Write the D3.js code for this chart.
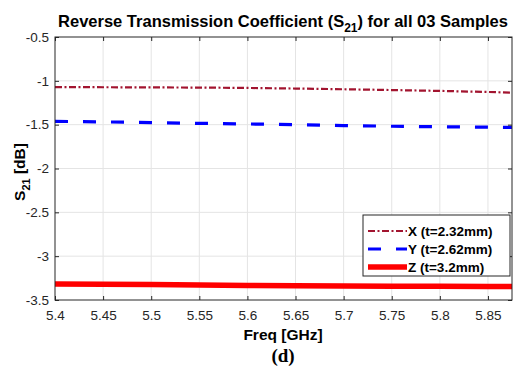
<!DOCTYPE html>
<html>
<head>
<meta charset="utf-8">
<script src="https://cdn.jsdelivr.net/npm/d3@7"></script>
<style>
  body { margin: 0; background: #fff; }
  svg { font-family: "Liberation Sans", Arial, sans-serif; }
</style>
</head>
<body>
<svg id="chart" width="515" height="374"></svg>
<script>
// frequency points (GHz)
const freq = [5.4, 5.45, 5.5, 5.55, 5.6, 5.65, 5.7, 5.75, 5.8, 5.85, 5.875]
// S21 [dB] for each sample
const sX = [-1.072, -1.073, -1.075, -1.077, -1.081, -1.088, -1.096, -1.105, -1.115, -1.127, -1.135]
const sY = [-1.462, -1.468, -1.476, -1.485, -1.492, -1.500, -1.510, -1.518, -1.524, -1.529, -1.532]
const sZ = [-3.318, -3.320, -3.324, -3.330, -3.334, -3.337, -3.341, -3.343, -3.344, -3.345, -3.345]
const xTicks = [5.4, 5.45, 5.5, 5.55, 5.6, 5.65, 5.7, 5.75, 5.8, 5.85]
const yTicks = [-0.5, -1, -1.5, -2, -2.5, -3, -3.5]
const labels = ['X (t=2.32mm)', 'Y (t=2.62mm)', 'Z (t=3.2mm)']

const series = [
	{ name: labels[0], values: sX, color: '#a2142f', width: 2.2, dash: '7,2.5,2,2.5' },
	{ name: labels[1], values: sY, color: '#0000ff', width: 3.2, dash: '13,15' },
	{ name: labels[2], values: sZ, color: '#ff0000', width: 5.5, dash: null }
]

const m = { left: 55, top: 37, right: 512, bottom: 300 }
const svg = d3.select('#chart')

const x = d3.scaleLinear().domain([5.4, 5.875]).range([m.left, m.right])
const y = d3.scaleLinear().domain([-3.5, -0.5]).range([m.bottom, m.top])

const axisColor = '#262626'
const fmt = (d) => String(d)

// grid
const grid = svg.append('g')
grid.selectAll('.gx').data(xTicks.slice(1))
	.enter().append('line')
		.attr('x1', (d) => x(d)).attr('x2', (d) => x(d))
		.attr('y1', m.top).attr('y2', m.bottom)
		.attr('stroke', '#e4e4e4').attr('stroke-width', 1)
grid.selectAll('.gy').data(yTicks.slice(1, -1))
	.enter().append('line')
		.attr('x1', m.left).attr('x2', m.right)
		.attr('y1', (d) => y(d)).attr('y2', (d) => y(d))
		.attr('stroke', '#e4e4e4').attr('stroke-width', 1)

// lines
const line = d3.line()
	.x((d, i) => x(freq[i]))
	.y((d) => y(d))

svg.append('g').selectAll('path').data(series)
	.enter().append('path')
		.attr('d', (s) => line(s.values))
		.attr('fill', 'none')
		.attr('stroke', (s) => s.color)
		.attr('stroke-width', (s) => s.width)
		.attr('stroke-dasharray', (s) => s.dash)

// axes with inward ticks
const xAxis = d3.axisBottom(x).tickValues(xTicks).tickFormat(fmt).tickSizeInner(-4).tickSizeOuter(0).tickPadding(10)
const yAxis = d3.axisLeft(y).tickValues(yTicks).tickFormat(fmt).tickSizeInner(-4).tickSizeOuter(0).tickPadding(6)
const xTop = d3.axisTop(x).tickValues(xTicks).tickFormat('').tickSizeInner(-4).tickSizeOuter(0)
const yRight = d3.axisRight(y).tickValues(yTicks).tickFormat('').tickSizeInner(-4).tickSizeOuter(0)

const styleAxis = (g) => {
	g.select('.domain').remove()
	g.selectAll('line').attr('stroke', axisColor)
	g.selectAll('text').attr('fill', axisColor).attr('font-size', 13.5)
		.attr('font-family', '"Liberation Sans", Arial, sans-serif')
}

svg.append('g').attr('transform', `translate(0,${m.bottom})`).call(xAxis).call(styleAxis)
svg.append('g').attr('transform', `translate(${m.left},0)`).call(yAxis).call(styleAxis)
svg.append('g').attr('transform', `translate(0,${m.top})`).call(xTop).call(styleAxis)
svg.append('g').attr('transform', `translate(${m.right},0)`).call(yRight).call(styleAxis)

// box
svg.append('rect')
	.attr('x', m.left).attr('y', m.top)
	.attr('width', m.right - m.left).attr('height', m.bottom - m.top)
	.attr('fill', 'none').attr('stroke', axisColor).attr('stroke-width', 1)

// title
const title = svg.append('text')
	.attr('x', 283).attr('y', 27)
	.attr('text-anchor', 'middle')
	.attr('font-size', 16.5).attr('font-weight', 'bold').attr('fill', '#000')
title.append('tspan').text('Reverse Transmission Coefficient (S')
title.append('tspan').text('21').attr('font-size', 12).attr('dy', 5)
title.append('tspan').text(') for all 03 Samples').attr('dy', -5)

// axis labels
svg.append('text')
	.attr('x', 283).attr('y', 340)
	.attr('text-anchor', 'middle')
	.attr('font-size', 15.5).attr('font-weight', 'bold')
	.text('Freq [GHz]')

const yl = svg.append('text')
	.attr('transform', 'translate(25,172) rotate(-90)')
	.attr('text-anchor', 'middle')
	.attr('font-size', 15.5).attr('font-weight', 'bold')
yl.append('tspan').text('S')
yl.append('tspan').text('21').attr('font-size', 11).attr('dy', 5)
yl.append('tspan').text(' [dB]').attr('dy', -5)

svg.append('text')
	.attr('x', 283).attr('y', 362)
	.attr('text-anchor', 'middle')
	.attr('font-family', '"Liberation Serif", "Times New Roman", serif')
	.attr('font-size', 19).attr('font-weight', 'bold')
	.text('(d)')

// legend
const lg = svg.append('g')
lg.append('rect')
	.attr('x', 363).attr('y', 215).attr('width', 147).attr('height', 61)
	.attr('fill', '#fff').attr('stroke', axisColor).attr('stroke-width', 1)

const item = lg.selectAll('.item').data(series)
	.enter().append('g')
		.attr('transform', (s, i) => `translate(0,${231 + i * 18})`)
item.append('line')
	.attr('x1', 368).attr('x2', 407)
	.attr('stroke', (s) => s.color)
	.attr('stroke-width', (s) => s.width)
	.attr('stroke-dasharray', (s) => s.dash)
item.append('text')
	.attr('x', 408).attr('dy', '0.35em')
	.attr('font-size', 13.5).attr('font-weight', 'bold')
	.text((s) => s.name)
</script>
</body>
</html>
